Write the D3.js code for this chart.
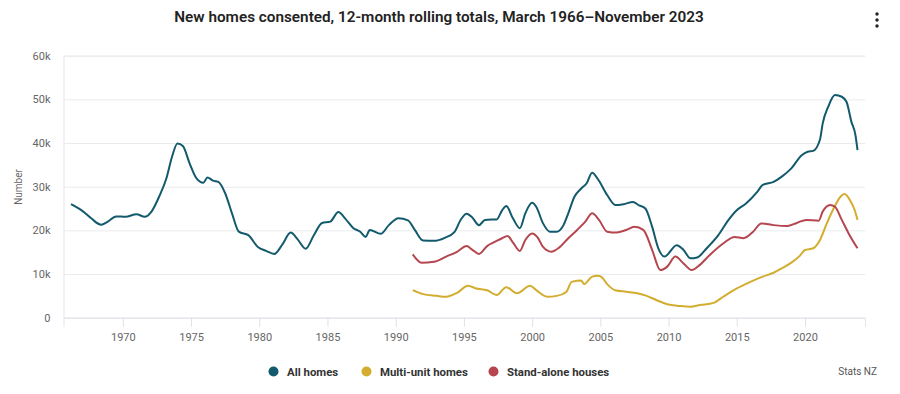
<!DOCTYPE html>
<html>
<head>
<meta charset="utf-8">
<script src="https://cdn.jsdelivr.net/npm/d3@7"></script>
<style>
  body { margin: 0; background: #fff; }
  svg { display: block; font-family: Roboto, "Open Sans", sans-serif; }
</style>
</head>
<body>
<div id="chart"></div>
<script>
// chart size
var W = 900;
var H = 394;

// data (decimal year, thousands of homes)
var allYears = [1966.2, 1967.1, 1967.7, 1968.4, 1968.9, 1969.5, 1970.2, 1971.0, 1971.6, 1972.1,
  1972.7, 1973.2, 1973.6, 1974.0, 1974.4, 1974.9, 1975.4, 1975.9, 1976.2, 1976.6,
  1977.0, 1977.5, 1978.0, 1978.5, 1979.2, 1979.9, 1980.5, 1981.1, 1981.7, 1982.3,
  1982.8, 1983.4, 1984.0, 1984.6, 1985.2, 1985.8, 1986.3, 1986.9, 1987.4, 1987.8,
  1988.1, 1988.9, 1989.5, 1990.2, 1990.9, 1991.4, 1992.0, 1992.8, 1993.6, 1994.3,
  1994.8, 1995.2, 1995.6, 1996.1, 1996.55, 1997.0, 1997.4, 1997.8, 1998.1, 1998.6,
  1999.1, 1999.5, 2000.0, 2000.3, 2000.8, 2001.3, 2001.8, 2002.3, 2002.65, 2003.1,
  2003.6, 2004.0, 2004.4, 2004.85, 2005.5, 2006.1, 2006.7, 2007.4, 2007.8, 2008.3,
  2008.8, 2009.25, 2009.7, 2010.6, 2011.1, 2011.6, 2012.1, 2012.8, 2013.65, 2014.4,
  2015.0, 2015.7, 2016.5, 2016.9, 2017.7, 2018.3, 2019.0, 2019.76, 2020.2, 2020.6,
  2021.1, 2021.3, 2021.7, 2022.2, 2022.7, 2023.05, 2023.4, 2023.7, 2023.85];
var allValues = [26.0, 24.3, 22.7, 21.3, 22.0, 23.2, 23.1, 23.7, 23.1, 24.3,
  28.0, 32.0, 36.8, 39.9, 39.3, 35.3, 31.9, 30.9, 32.1, 31.4,
  31.1, 28.5, 23.9, 19.7, 18.9, 16.2, 15.3, 14.6, 16.8, 19.5,
  18.0, 15.8, 18.9, 21.7, 22.0, 24.2, 22.7, 20.5, 19.7, 18.5,
  20.1, 19.2, 21.2, 22.8, 22.3, 20.1, 17.7, 17.6, 18.3, 19.6,
  22.6, 23.8, 23.0, 21.2, 22.4, 22.5, 22.5, 24.6, 25.6, 22.7,
  20.5, 23.9, 26.3, 25.4, 21.6, 19.7, 19.7, 21.2, 23.9, 27.7,
  29.6, 30.8, 33.2, 31.6, 28.1, 25.8, 26.0, 26.5, 25.8, 25.0,
  20.8, 15.9, 14.0, 16.6, 15.5, 13.6, 13.8, 15.9, 18.9, 22.4,
  24.6, 26.2, 28.8, 30.4, 31.1, 32.3, 34.2, 37.2, 38.0, 38.2,
  40.8, 44.5, 48.3, 51.0, 50.6, 49.4, 44.9, 41.8, 38.4];

var multiYears = [1991.25, 1992.0, 1993.0, 1993.7, 1994.5, 1995.3, 1995.9, 1996.7, 1997.4, 1998.1,
  1998.9, 1999.85, 2000.3, 2001.1, 2001.8, 2002.5, 2002.9, 2003.6, 2003.8, 2004.4,
  2004.85, 2005.1, 2005.5, 2006.1, 2006.9, 2007.7, 2008.4, 2009.1, 2009.9, 2010.8,
  2011.6, 2012.3, 2013.3, 2014.0, 2015.0, 2016.0, 2016.9, 2017.7, 2018.3, 2019.0,
  2019.6, 2020.0, 2020.6, 2021.1, 2021.6, 2022.1, 2022.6, 2022.9, 2023.3, 2023.65, 2023.85];
var multiValues = [6.3, 5.4, 5.0, 4.8, 5.7, 7.3, 6.7, 6.3, 5.2, 7.0,
  5.6, 7.3, 6.3, 4.8, 5.0, 5.9, 8.2, 8.5, 7.7, 9.4,
  9.6, 9.3, 7.7, 6.3, 5.95, 5.6, 5.0, 4.05, 3.1, 2.7,
  2.5, 2.9, 3.4, 4.8, 6.7, 8.2, 9.4, 10.3, 11.3, 12.6,
  14.1, 15.5, 15.9, 17.8, 21.6, 25.0, 27.7, 28.3, 26.9, 24.6, 22.4];

var standYears = [1991.25, 1991.9, 1992.8, 1993.7, 1994.5, 1995.2, 1995.6, 1996.1, 1996.7, 1997.3,
  1997.8, 1998.2, 1998.6, 1999.1, 1999.5, 2000.0, 2000.4, 2000.8, 2001.4, 2002.0,
  2002.65, 2003.3, 2003.9, 2004.4, 2004.9, 2005.5, 2006.2, 2006.9, 2007.5, 2008.15,
  2008.8, 2009.4, 2009.9, 2010.5, 2011.1, 2011.7, 2012.3, 2013.0, 2014.0, 2014.85,
  2015.5, 2016.2, 2016.8, 2017.7, 2018.7, 2019.4, 2020.1, 2021.0, 2021.3, 2021.85,
  2022.2, 2022.7, 2023.2, 2023.85];
var standValues = [14.5, 12.6, 12.8, 14.0, 15.1, 16.4, 15.6, 14.6, 16.4, 17.4,
  18.2, 18.7, 17.2, 15.3, 17.8, 19.3, 18.4, 16.2, 15.1, 16.1,
  18.2, 20.1, 22.0, 23.9, 22.4, 19.7, 19.5, 20.1, 20.8, 20.1,
  15.5, 10.9, 11.7, 14.0, 12.4, 10.9, 12.1, 14.3, 17.0, 18.5,
  18.2, 19.7, 21.6, 21.2, 21.0, 21.7, 22.4, 22.2, 24.3, 25.8,
  25.4, 22.4, 19.3, 15.9];

var seriesNames = ["All homes", "Multi-unit homes", "Stand-alone houses"];
var seriesColors = ["#135a6d", "#d3ad2f", "#b5464f"];
var yTicks = [0, 10, 20, 30, 40, 50, 60];
var xTicks = [1970, 1975, 1980, 1985, 1990, 1995, 2000, 2005, 2010, 2015, 2020];

// plot area
var Left = 63.5;
var Right = 865;
var Top = 55.7;
var Bottom = 317.7;

function main() {
  var svg = d3.select("#chart")
    .append("svg")
    .attr("width", W)
    .attr("height", H);

  var xScale = d3.scaleLinear().domain([1965.65, 2024.4]).range([Left, Right]);
  var yScale = d3.scaleLinear().domain([0, 60]).range([Bottom, Top]);

  drawTitle(svg);
  drawAxes(svg, xScale, yScale);

  var series = [
    { name: seriesNames[0], years: allYears, values: allValues },
    { name: seriesNames[1], years: multiYears, values: multiValues },
    { name: seriesNames[2], years: standYears, values: standValues }
  ];
  drawLines(svg, series, xScale, yScale);
  drawLegend(svg);
}

function drawTitle(svg) {
  svg.append("text")
    .attr("x", 439)
    .attr("y", 22)
    .attr("text-anchor", "middle")
    .attr("font-size", "15.3px")
    .attr("font-weight", 600)
    .attr("fill", "#222")
    .text("New homes consented, 12-month rolling totals, March 1966\u2013November 2023");

  // menu dots top right
  svg.selectAll("circle.menu")
    .data([14, 20, 26])
    .enter()
    .append("circle")
    .attr("class", "menu")
    .attr("cx", 877)
    .attr("cy", function(d) { return d; })
    .attr("r", 1.7)
    .attr("fill", "#222");
}

function drawAxes(svg, xScale, yScale) {
  //horizontal gridlines
  var yAxis = d3.axisLeft(yScale)
    .tickValues(yTicks)
    .tickSize(-(Right - Left))
    .tickPadding(13)
    .tickFormat(function(d) { return d == 0 ? "0" : d + "k"; });

  var gy = svg.append("g")
    .attr("transform", "translate(" + Left + ",0)")
    .call(yAxis);
  gy.select(".domain").attr("stroke", "#e3e5ea");
  gy.selectAll(".tick line").attr("stroke", "#eaebee");
  gy.selectAll(".tick text")
    .attr("fill", "#666")
    .attr("font-size", "11px")
    .attr("font-family", "Roboto, sans-serif");

  var xAxis = d3.axisBottom(xScale)
    .tickValues(xTicks)
    .tickSize(9)
    .tickPadding(7)
    .tickFormat(d3.format("d"));

  var gx = svg.append("g")
    .attr("transform", "translate(0," + Bottom + ")")
    .call(xAxis);
  gx.select(".domain").attr("stroke", "#e3e5ea");
  gx.selectAll(".tick line").attr("stroke", "#dfe1e6");
  gx.selectAll(".tick text")
    .attr("fill", "#666")
    .attr("font-size", "11px")
    .attr("font-family", "Roboto, sans-serif");

  svg.append("text")
    .attr("transform", "translate(22,187) rotate(-90)")
    .attr("text-anchor", "middle")
    .attr("font-size", "10px")
    .attr("fill", "#666")
    .text("Number");
}

function drawLines(svg, series, xScale, yScale) {
  var line = d3.line()
    .x(function(d) { return xScale(d[0]); })
    .y(function(d) { return yScale(d[1]); })
    .curve(d3.curveMonotoneX);

  svg.selectAll("path.series")
    .data(series)
    .enter()
    .append("path")
    .attr("class", "series")
    .attr("fill", "none")
    .attr("stroke", function(d, i) { return seriesColors[i]; })
    .attr("stroke-width", 2)
    .attr("stroke-linejoin", "round")
    .attr("d", function(d) {
      return line(d3.zip(d.years, d.values));
    });
}

function drawLegend(svg) {
  var legendX = [273.5, 366.5, 493.5];
  var items = svg.selectAll("g.legend")
    .data(seriesNames)
    .enter()
    .append("g")
    .attr("class", "legend")
    .attr("transform", function(d, i) { return "translate(" + legendX[i] + ",371.5)"; });

  items.append("circle")
    .attr("r", 5)
    .attr("fill", function(d, i) { return seriesColors[i]; });

  items.append("text")
    .attr("x", 13.5)
    .attr("y", 4)
    .attr("font-size", "11.4px")
    .attr("font-weight", 700)
    .attr("fill", "#333")
    .text(function(d) { return d; });

  svg.append("text")
    .attr("x", 877)
    .attr("y", 375)
    .attr("text-anchor", "end")
    .attr("font-size", "10px")
    .attr("fill", "#555")
    .text("Stats NZ");
}

main();
</script>
</body>
</html>
